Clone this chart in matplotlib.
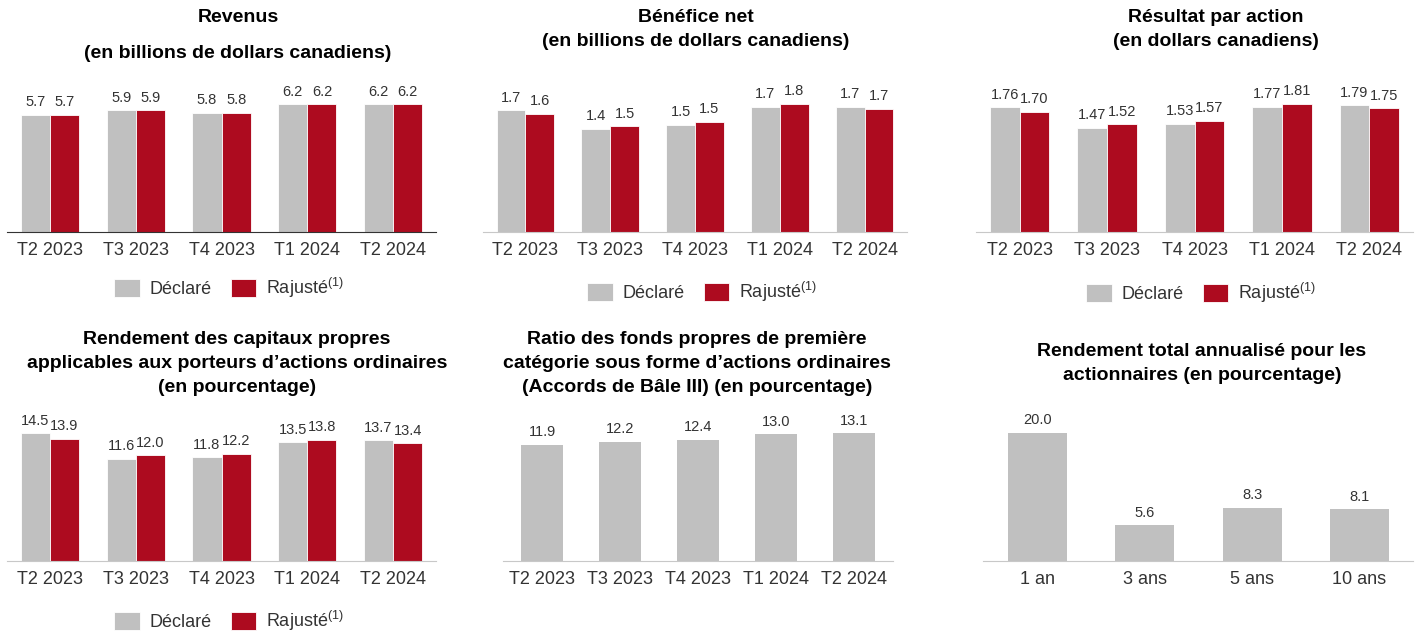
import numpy as np
import matplotlib.pyplot as plt

plt.rcParams['font.family'] = ['Liberation Sans', 'DejaVu Sans']

# data
trimestres = ['T2 2023', 'T3 2023', 'T4 2023', 'T1 2024', 'T2 2024']
revenus_decl = [5.7, 5.9, 5.8, 6.2, 6.2]
revenus_raj = [5.7, 5.9, 5.8, 6.2, 6.2]
benef_decl = [1.69, 1.43, 1.49, 1.74, 1.74]
benef_raj = [1.64, 1.47, 1.53, 1.78, 1.71]
bpa_decl = [1.76, 1.47, 1.53, 1.77, 1.79]
bpa_raj = [1.70, 1.52, 1.57, 1.81, 1.75]
rcp_decl = [14.5, 11.6, 11.8, 13.5, 13.7]
rcp_raj = [13.9, 12.0, 12.2, 13.8, 13.4]
ratio_fp = [11.9, 12.2, 12.4, 13.0, 13.1]
periodes = ['1 an', '3 ans', '5 ans', '10 ans']
rendement_total = [20.0, 5.6, 8.3, 8.1]

GRIS = '#C0C0C0'
ROUGE = '#AD0B1F'
TXT = '#333333'
W, H = 1417, 633

fig = plt.figure(figsize=(W / 100, H / 100), dpi=100)


def axes_px(x0, x1, base, top, scale):
    # pixel box -> figure axes, y scaled in px per unit
    ax = fig.add_axes([x0 / W, 1 - base / H, (x1 - x0) / W, (base - top) / H])
    ax.set_ylim(0, (base - top) / scale)
    for s in ['top', 'right', 'left']:
        ax.spines[s].set_visible(False)
    ax.set_yticks([])
    ax.tick_params(axis='x', length=0, labelsize=13, labelcolor=TXT, pad=7)
    ax.patch.set_alpha(0)
    return ax


def titre(x, y, lignes, dy=24):
    for i, l in enumerate(lignes):
        fig.text(x / W, 1 - (y + i * dy) / H, l, ha='center', va='center',
                 fontsize=14, fontweight='bold', color='black')


def paire(ax, decl, raj, fmt, w=0.34):
    x = np.arange(len(trimestres))
    b1 = ax.bar(x - w / 2, decl, w, color=GRIS, edgecolor='white', linewidth=0.6)
    b2 = ax.bar(x + w / 2, raj, w, color=ROUGE, edgecolor='white', linewidth=0.6)
    ax.bar_label(b1, fmt=fmt, padding=4, fontsize=10.5, color=TXT)
    ax.bar_label(b2, fmt=fmt, padding=4, fontsize=10.5, color=TXT)
    ax.set_xticks(x)
    ax.set_xticklabels(trimestres)
    ax.set_xlim(-0.5, 4.5)
    return b1, b2


def legende(handles, cx, cy):
    fig.legend(handles, ['Déclaré', 'Rajusté$^{\\mathregular{(1)}}$'], loc='center',
               bbox_to_anchor=(cx / W, 1 - cy / H), ncol=2, frameon=False,
               fontsize=13, handlelength=1.4, handleheight=1.1,
               handletextpad=0.55, columnspacing=1.05, labelcolor=TXT)


# Revenus
ax1 = axes_px(7, 436, 232, 80, 20.6)
h = paire(ax1, revenus_decl, revenus_raj, '%.1f')
ax1.spines['bottom'].set_color('#333333')
titre(238, 18, ['Revenus', '(en billions de dollars canadiens)'], dy=35)
legende(h, 229, 288)

# Benefice net
ax2 = axes_px(483, 907, 232, 80, 72)
h = paire(ax2, benef_decl, benef_raj, '%.1f')
ax2.spines['bottom'].set_color('#C8C8C8')
titre(696, 17, ['Bénéfice net', '(en billions de dollars canadiens)'])
legende(h, 702, 292)

# Resultat par action
ax3 = axes_px(976, 1413, 232, 80, 70.8)
h = paire(ax3, bpa_decl, bpa_raj, '%.2f')
ax3.spines['bottom'].set_color('#C8C8C8')
titre(1216, 17, ['Résultat par action', '(en dollars canadiens)'])
legende(h, 1201, 293)

# Rendement des capitaux propres
ax4 = axes_px(7, 436, 561, 410, 8.8)
h = paire(ax4, rcp_decl, rcp_raj, '%.1f')
ax4.spines['bottom'].set_color('#C8C8C8')
titre(237, 340, ['Rendement des capitaux propres',
                 'applicables aux porteurs d\u2019actions ordinaires',
                 '(en pourcentage)'])
legende(h, 229, 621)

# Ratio des fonds propres
ax5 = axes_px(503, 893, 561, 410, 9.76)
x = np.arange(len(trimestres))
b = ax5.bar(x, ratio_fp, 0.54, color=GRIS)
ax5.bar_label(b, fmt='%.1f', padding=4, fontsize=10.5, color=TXT)
ax5.set_xticks(x)
ax5.set_xticklabels(trimestres)
ax5.set_xlim(-0.5, 4.5)
ax5.spines['bottom'].set_color('#C8C8C8')
titre(697, 340, ['Ratio des fonds propres de première',
                 'catégorie sous forme d\u2019actions ordinaires',
                 '(Accords de Bâle III) (en pourcentage)'])

# Rendement total
ax6 = axes_px(983, 1413, 561, 410, 6.4)
x = np.arange(len(periodes))
b = ax6.bar(x, rendement_total, 0.55, color=GRIS)
ax6.bar_label(b, fmt='%.1f', padding=4, fontsize=10.5, color=TXT)
ax6.set_xticks(x)
ax6.set_xticklabels(periodes)
ax6.set_xlim(-0.51, 3.5)
ax6.spines['bottom'].set_color('#C8C8C8')
titre(1202, 352, ['Rendement total annualisé pour les',
                  'actionnaires (en pourcentage)'])

fig.savefig('out.png', dpi=100)
